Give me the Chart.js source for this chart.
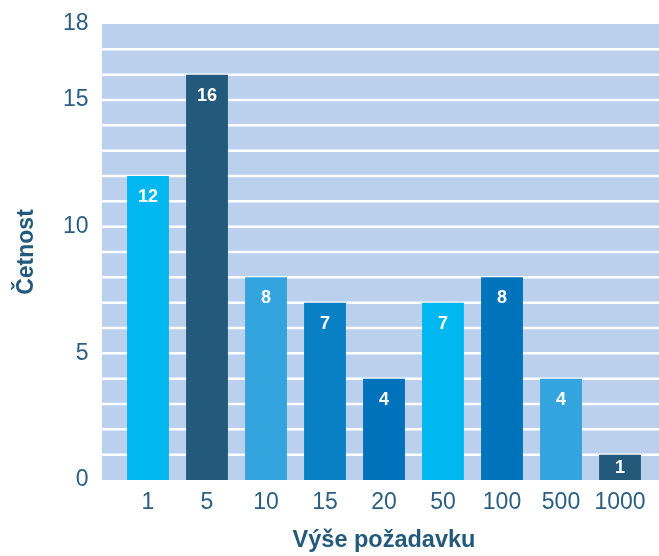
<!DOCTYPE html>
<html>
<head>
<meta charset="utf-8">
<script src="https://cdn.jsdelivr.net/npm/chart.js@4"></script>
<style>
  html, body { margin: 0; padding: 0; background: #fff; }
  #wrap { width: 659px; height: 556px; }
</style>
</head>
<body>
<div id="wrap"><canvas id="chart" width="659" height="556"></canvas></div>
<script>
// categories and counts
const categories = ['1', '5', '10', '15', '20', '50', '100', '500', '1000'];
const counts = [12, 16, 8, 7, 4, 7, 8, 4, 1];
const barColors = ['#00B7F0', '#235A7C', '#34A4DE', '#0A80C4', '#0071BB', '#00B7F0', '#0073BD', '#34A4DE', '#235A7C'];
const yTickLabels = [0, 5, 10, 15, 18];

const textColor = '#2B5E82';
const titleColor = '#235A7C';
const fontFamily = '"Liberation Sans", Arial, Helvetica, sans-serif';

// light blue panel with white unit lines, a bit wider than the category band
const panelBackground = {
    id: 'panelBackground',
    beforeDatasetsDraw(chart) {
        const { ctx, chartArea, scales } = chart;
        const left = chartArea.left - 16.5;
        const right = chartArea.right + 9.5;
        ctx.save();
        ctx.fillStyle = '#BAD0EC';
        ctx.fillRect(left, chartArea.top, right - left, chartArea.bottom - chartArea.top);
        ctx.strokeStyle = '#ffffff';
        ctx.lineWidth = 2.5;
        for (let v = scales.y.min + 1; v < scales.y.max; v++) {
            const y = scales.y.getPixelForValue(v);
            ctx.beginPath();
            ctx.moveTo(left, y);
            ctx.lineTo(right, y);
            ctx.stroke();
        }
        ctx.restore();
    }
};

// value labels inside the bars
const barValueLabels = {
    id: 'barValueLabels',
    afterDatasetsDraw(chart) {
        const { ctx } = chart;
        const meta = chart.getDatasetMeta(0);
        ctx.save();
        ctx.fillStyle = '#ffffff';
        ctx.font = 'bold 18px ' + fontFamily;
        ctx.textAlign = 'center';
        ctx.textBaseline = 'middle';
        meta.data.forEach((bar, i) => {
            const h = bar.base - bar.y;
            const y = Math.min(bar.y + 20, bar.y + h / 2);
            ctx.fillText(String(counts[i]), bar.x, y + 1);
        });
        ctx.restore();
    }
};

new Chart(document.getElementById('chart'), {
    type: 'bar',
    data: {
        labels: categories,
        datasets: [{
            data: counts,
            backgroundColor: barColors,
            borderWidth: 0,
            barPercentage: 0.71,
            categoryPercentage: 1.0
        }]
    },
    options: {
        responsive: false,
        animation: false,
        layout: { padding: { top: 24, right: 9.5, left: 0, bottom: 0 } },
        plugins: {
            legend: { display: false },
            tooltip: { enabled: false }
        },
        scales: {
            x: {
                grid: { display: false, drawTicks: false },
                border: { display: false },
                ticks: {
                    color: textColor,
                    font: { family: fontFamily, size: 23 },
                    padding: 9
                },
                title: {
                    display: true,
                    text: 'Výše požadavku',
                    color: titleColor,
                    font: { family: fontFamily, size: 23.5, weight: 'bold' },
                    padding: { top: 0, bottom: 1 }
                },
                afterFit(scale) {
                    scale.height = 76;
                    scale.paddingLeft = 0;
                    scale.paddingRight = 0;
                }
            },
            y: {
                min: 0,
                max: 18,
                grid: { display: false, drawTicks: false },
                border: { display: false },
                ticks: {
                    stepSize: 1,
                    autoSkip: false,
                    color: textColor,
                    font: { family: fontFamily, size: 23 },
                    padding: 30,
                    callback: (v) => yTickLabels.includes(v) ? String(v) : ''
                },
                title: {
                    display: true,
                    text: 'Četnost',
                    color: titleColor,
                    font: { family: fontFamily, size: 23, weight: 'bold' },
                    padding: { top: 13, bottom: 0 }
                },
                afterFit(scale) {
                    scale.width = 118.5;
                    scale.paddingTop = 0;
                    scale.paddingBottom = 0;
                }
            }
        }
    },
    plugins: [panelBackground, barValueLabels]
});
</script>
</body>
</html>
